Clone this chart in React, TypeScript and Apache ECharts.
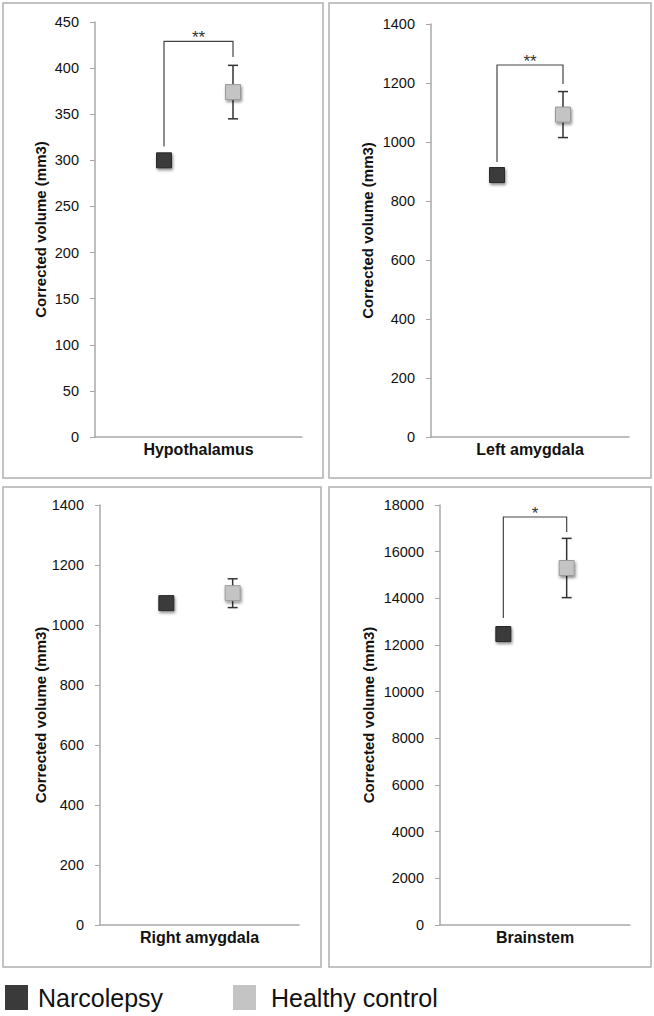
import React, { useEffect, useRef } from "react";
import * as echarts from "echarts";

// ---- data ----
const regions = ["Hypothalamus", "Left amygdala", "Right amygdala", "Brainstem"];
const groups = ["Narcolepsy", "Healthy control"];
const narcolepsyMeans = [300, 888, 1073, 12470];
const controlMeans = [374, 1093, 1106, 15300];
const controlErrors = [29, 78, 48, 1270];
const yMax = [450, 1400, 1400, 18000];
const yInterval = [50, 200, 200, 2000];
const significance = ["**", "**", "", "*"];
const bracketTop = [429, 1261, null, 17486];
const bracketLeftEnd = [315, 932, null, 13157];
const bracketRightEnd = [412, 1197, null, 16843];

// ---- layout ----
const gridLeft = [95, 431, 100, 440];
const gridTop = [22, 24, 505, 505];
const gridWidth = [207, 198, 199, 190];
const gridHeight = [415, 413, 420, 420];
const yNameGap = [47, 56, 52, 64];
const boxes = [
  [3, 3, 320, 475],
  [329, 3, 322, 475],
  [3, 487, 318, 480],
  [329, 487, 322, 480],
];

const FONT = "'Liberation Sans', Arial, Helvetica, sans-serif";
const DARK = "#3a3a3a";
const LIGHT = "#c4c4c4";

export default function App() {
  const ref = useRef<HTMLDivElement>(null);
  useEffect(() => {
    document.body.style.margin = "0";
    const chart = echarts.init(ref.current!, null, { renderer: "svg" });
    const xCats = ["", groups[0], groups[1], ""];
    const grids: any[] = [];
    const xAxes: any[] = [];
    const yAxes: any[] = [];
    const series: any[] = [];
    regions.forEach((region, i) => {
      grids.push({ left: gridLeft[i], top: gridTop[i], width: gridWidth[i], height: gridHeight[i] });
      xAxes.push({
        gridIndex: i,
        type: "category",
        data: xCats,
        boundaryGap: false,
        name: region,
        nameLocation: "middle",
        nameGap: 4,
        nameTextStyle: { fontFamily: FONT, fontWeight: "bold", fontSize: 16, color: "#111", verticalAlign: "top" },
        axisLine: { show: true, lineStyle: { color: "#a8a8a8", width: 1.5 } },
        axisTick: { show: false },
        axisLabel: { show: false },
        splitLine: { show: false },
      });
      yAxes.push({
        gridIndex: i,
        type: "value",
        min: 0,
        max: yMax[i],
        interval: yInterval[i],
        name: "Corrected volume (mm3)",
        nameLocation: "middle",
        nameGap: yNameGap[i],
        nameTextStyle: { fontFamily: FONT, fontWeight: "bold", fontSize: 15, color: "#111" },
        axisLine: { show: true, lineStyle: { color: "#a8a8a8", width: 1.5 } },
        axisTick: { show: true, inside: false, length: 5, lineStyle: { color: "#a8a8a8" } },
        axisLabel: {
          fontFamily: FONT,
          fontSize: 14.5,
          color: "#111",
          margin: 16,
          formatter: (v: number) => String(v),
        },
        splitLine: { show: false },
      });
      // error bars for control
      series.push({
        type: "custom",
        xAxisIndex: i,
        yAxisIndex: i,
        z: 1,
        data: [[2, controlMeans[i] - controlErrors[i], controlMeans[i] + controlErrors[i]]],
        renderItem: (params: any, api: any) => {
          const lo = api.coord([api.value(0), api.value(1)]);
          const hi = api.coord([api.value(0), api.value(2)]);
          const hw = 5;
          const st = { stroke: "#333", lineWidth: 1.5 };
          return {
            type: "group",
            children: [
              { type: "line", shape: { x1: lo[0], y1: lo[1], x2: hi[0], y2: hi[1] }, style: st },
              { type: "line", shape: { x1: lo[0] - hw, y1: lo[1], x2: lo[0] + hw, y2: lo[1] }, style: st },
              { type: "line", shape: { x1: hi[0] - hw, y1: hi[1], x2: hi[0] + hw, y2: hi[1] }, style: st },
            ],
          };
        },
        silent: true,
      });
      // significance bracket
      if (significance[i]) {
        series.push({
          type: "custom",
          xAxisIndex: i,
          yAxisIndex: i,
          z: 1,
          data: [[1, 2, bracketTop[i], bracketLeftEnd[i], bracketRightEnd[i]]],
          renderItem: (params: any, api: any) => {
            const tl = api.coord([api.value(0), api.value(2)]);
            const tr = api.coord([api.value(1), api.value(2)]);
            const bl = api.coord([api.value(0), api.value(3)]);
            const br = api.coord([api.value(1), api.value(4)]);
            return {
              type: "group",
              children: [
                {
                  type: "polyline",
                  shape: { points: [bl, tl, tr, br] },
                  style: { stroke: "#444", lineWidth: 1.2, fill: null },
                },
                {
                  type: "text",
                  style: {
                    text: significance[i],
                    x: (tl[0] + tr[0]) / 2,
                    y: tl[1] + 5,
                    align: "center",
                    verticalAlign: "bottom",
                    fontFamily: FONT,
                    fontSize: 17,
                    fill: "#333",
                  },
                },
              ],
            };
          },
          silent: true,
        });
      }
      const shadow = { shadowBlur: 3, shadowColor: "rgba(0,0,0,0.45)", shadowOffsetX: 1, shadowOffsetY: 2 };
      series.push({
        name: groups[0],
        type: "scatter",
        xAxisIndex: i,
        yAxisIndex: i,
        symbol: "rect",
        symbolSize: 15,
        z: 3,
        itemStyle: { color: DARK, borderColor: "#2a2a2a", borderWidth: 1, opacity: 1, ...shadow },
        data: [[1, narcolepsyMeans[i]]],
      });
      series.push({
        name: groups[1],
        type: "scatter",
        xAxisIndex: i,
        yAxisIndex: i,
        symbol: "rect",
        symbolSize: 15,
        z: 3,
        itemStyle: { color: LIGHT, borderColor: "#999", borderWidth: 1, opacity: 1, ...shadow },
        data: [[2, controlMeans[i]]],
      });
    });

    const graphic: any[] = boxes.map((b) => ({
      type: "rect",
      shape: { x: b[0], y: b[1], width: b[2], height: b[3] },
      style: { fill: "none", stroke: "#b0b0b0", lineWidth: 1.5 },
      silent: true,
      z: -1,
    }));
    graphic.push(
      { type: "rect", shape: { x: 5, y: 985, width: 23, height: 25 }, style: { fill: DARK } },
      { type: "text", x: 38, y: 998, style: { text: groups[0], fontFamily: FONT, fontSize: 25, fill: "#111", verticalAlign: "middle" } },
      { type: "rect", shape: { x: 233, y: 985, width: 23, height: 25 }, style: { fill: LIGHT } },
      { type: "text", x: 271, y: 998, style: { text: groups[1], fontFamily: FONT, fontSize: 25, fill: "#111", verticalAlign: "middle" } }
    );

    chart.setOption({
      animation: false,
      backgroundColor: "#fff",
      grid: grids,
      xAxis: xAxes,
      yAxis: yAxes,
      series,
      graphic,
    });
    return () => chart.dispose();
  }, []);
  return <div ref={ref} style={{ width: 654, height: 1016 }} />;
}
